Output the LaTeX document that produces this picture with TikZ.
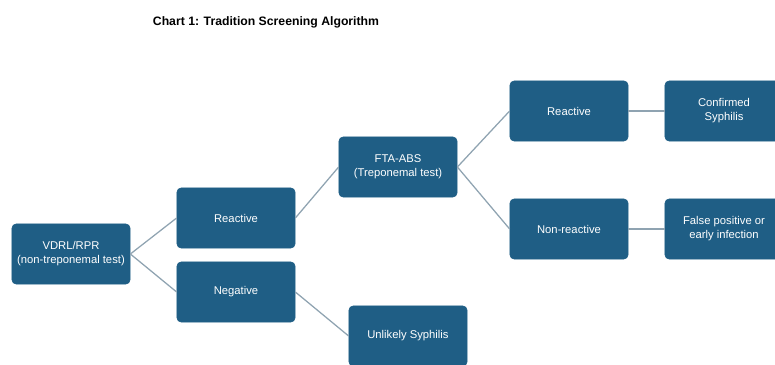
\documentclass[tikz,border=0pt]{standalone}
\usepackage{fontspec}
\setmainfont{Liberation Sans}
\usepackage{tikz}
\usetikzlibrary{positioning,calc}
\definecolor{boxblue}{HTML}{1F5E85}
\definecolor{linkgray}{HTML}{8FA3B1}
\tikzset{
    every picture/.style={line width=0.5pt},
    stagebox/.style={rectangle,rounded corners=3pt,fill=boxblue,draw=boxblue,
        text=white,minimum width=2.95cm,minimum height=1.5cm,inner sep=1pt,
        align=center,font=\fontsize{8}{10}\selectfont},
    link/.style={draw=linkgray,line width=0.9pt}
}
\begin{document}
\begin{tikzpicture}[x=0.025cm,y=-0.025cm]
        \useasboundingbox (0,0) rectangle (775,365);
        % Title
        \node (title) at (266,22) {\fontsize{8.7}{10}\selectfont\bfseries Chart 1: Tradition Screening Algorithm};

        % First test
        \node[stagebox] (vdrl) at (71,254) {VDRL/RPR\\(non-treponemal test)};
        \node[stagebox] (reac) at (236,218) {Reactive};
        \node[stagebox] (neg) at (236,292) {Negative};

        % Confirmation test
        \node[stagebox] (fta) at (398,167) {FTA-ABS\\(Treponemal test)};
        \node[stagebox] (unlik) at (408,336) {Unlikely Syphilis};
        \node[stagebox] (reacb) at (569,111) {Reactive};
        \node[stagebox] (nonreac) at (569,229) {Non-reactive};

        % Outcomes
        \node[stagebox] (conf) at (724,111) {Confirmed\\Syphilis};
        \node[stagebox] (falsepos) at (724,229) {False positive or\\early infection};

        % Links
        \draw[link] (vdrl.east) -- (reac.west);
        \draw[link] (vdrl.east) -- (neg.west);
        \draw[link] (reac.east) -- (fta.west);
        \draw[link] (neg.east) -- (unlik.west);
        \draw[link] (fta.east) -- (reacb.west);
        \draw[link] (fta.east) -- (nonreac.west);
        \draw[link] (reacb.east) -- (conf.west);
        \draw[link] (nonreac.east) -- (falsepos.west);
    \end{tikzpicture}
\end{document}
